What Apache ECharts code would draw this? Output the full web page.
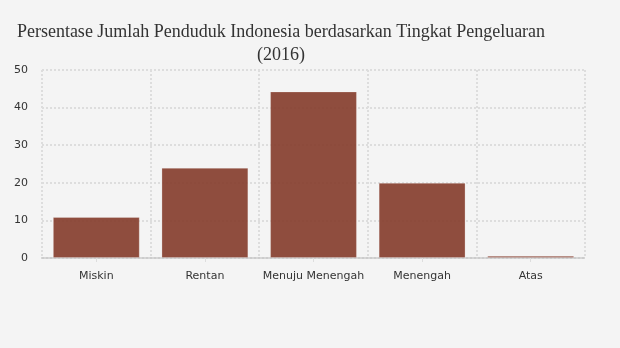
<!DOCTYPE html>
<html><head><meta charset="utf-8">
<script src="https://cdn.jsdelivr.net/npm/echarts@6/dist/echarts.min.js"></script>
<style>html,body{margin:0;padding:0;background:#f4f4f4}#c{width:620px;height:348px}</style>
</head><body><div id="c"></div>
<script>
const categories = ['Miskin', 'Rentan', 'Menuju Menengah', 'Menengah', 'Atas'];
const values = [10.9, 24.0, 44.3, 20.0, 0.6];
const yTicks = [0, 10, 20, 30, 40, 50];

const chart = echarts.init(document.getElementById('c'), null, {renderer: 'canvas'});
chart.setOption({
  backgroundColor: '#f4f4f4',
  animation: false,
  title: {
    text: 'Persentase Jumlah Penduduk Indonesia berdasarkan Tingkat Pengeluaran\n(2016)',
    left: 276, top: 16, textAlign: 'center',
    textStyle: {fontFamily: 'Liberation Serif', fontSize: 18, fontWeight: 'normal', color: '#333', lineHeight: 23}
  },
  grid: {left: 42, right: 35, top: 70, bottom: 90},
  xAxis: {
    type: 'category', data: categories,
    axisLine: {show: true, lineStyle: {color: '#ccc', type: [2, 2], width: 2}},
    axisTick: {show: true, alignWithLabel: true, length: 4, lineStyle: {color: '#ddd'}},
    axisLabel: {color: '#333', fontFamily: 'DejaVu Sans', fontSize: 11, margin: 13, interval: 0},
    splitLine: {show: true, interval: 0, lineStyle: {color: '#ddd', type: [2, 2], width: 2}}
  },
  yAxis: {
    type: 'value', min: yTicks[0], max: yTicks[yTicks.length - 1], interval: 10,
    axisLine: {show: false}, axisTick: {show: false},
    axisLabel: {color: '#333', fontFamily: 'DejaVu Sans', fontSize: 11, margin: 14},
    splitLine: {show: true, lineStyle: {color: '#ddd', type: [2, 2], width: 2}}
  },
  series: [{
    type: 'bar', data: values, barWidth: '80%',
    itemStyle: {color: '#87402f', opacity: 0.93, borderColor: 'rgba(255,255,255,0.25)', borderWidth: 1},
    z: 1
  }]
});
</script></body></html>
